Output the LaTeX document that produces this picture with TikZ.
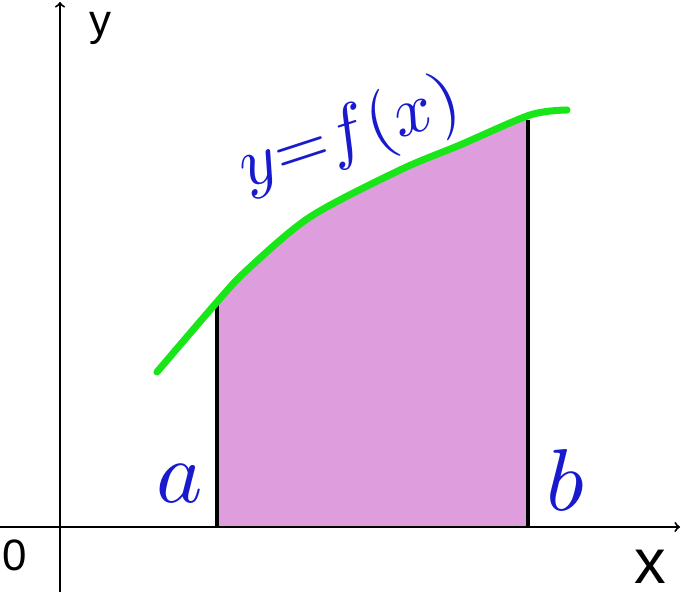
\documentclass[tikz,border=0pt]{standalone}
\usepackage{fontspec}
\newfontfamily\axisfont{Liberation Sans}
\usetikzlibrary{positioning,calc}
\definecolor{areapink}{RGB}{222,158,222}
\definecolor{curvegreen}{RGB}{25,230,25}
\definecolor{penblue}{RGB}{25,25,205}

\begin{document}
\begin{tikzpicture}[x=0.02cm,y=-0.02cm,
    axis/.style={line width=1.1pt,->},
    bound/.style={line width=2.4pt,black},
    lbl/.style={inner sep=0pt,font=\axisfont\fontsize{25}{30}\selectfont},
    pen/.style={penblue,inner sep=0pt,scale=5}]
            \useasboundingbox (0,0) rectangle (681,592);
            % area under the curve
            \begin{scope}
                \clip (217,527) rectangle (528,0);
                \fill[areapink] plot[smooth] coordinates {(157,372) (217,302) (247,270) (310,217) (400,170) (460,145) (530,115) (567,110)}
                    -- (567,527) -- (157,527) -- cycle;
            \end{scope}
            % axes
            \coordinate (xs) at (0,527);
            \coordinate (xe) at (680,527);
            \coordinate (ys) at (60,592);
            \coordinate (ye) at (60,2);
            \draw[axis] (xs) -- (xe);
            \draw[axis] (ys) -- (ye);
            % bounds a and b
            \coordinate (a0) at (217,527);
            \coordinate (a1) at (217,300);
            \coordinate (b0) at (528,527);
            \coordinate (b1) at (528,120);
            \draw[bound] (a0) -- (a1);
            \draw[bound] (b0) -- (b1);
            % curve
            \draw[curvegreen,line width=4pt,line cap=round] plot[smooth] coordinates {(157,372) (217,302) (247,270) (310,217) (400,170) (460,145) (530,115) (567,110)};
            % labels
            \node[lbl] (ylab) at (100,28) {y};
            \node[lbl] (olab) at (15,555) {0};
            \node[lbl,font=\axisfont\fontsize{36}{40}\selectfont] (xlab) at (650,567) {x};
            \node[pen] (alab) at (180,484) {$a$};
            \node[pen] (blab) at (565,480) {$b$};
            \node[pen,scale=0.8,rotate=18] (flab) at (350,136) {$y{=}f(x)$};
\end{tikzpicture}
\end{document}
